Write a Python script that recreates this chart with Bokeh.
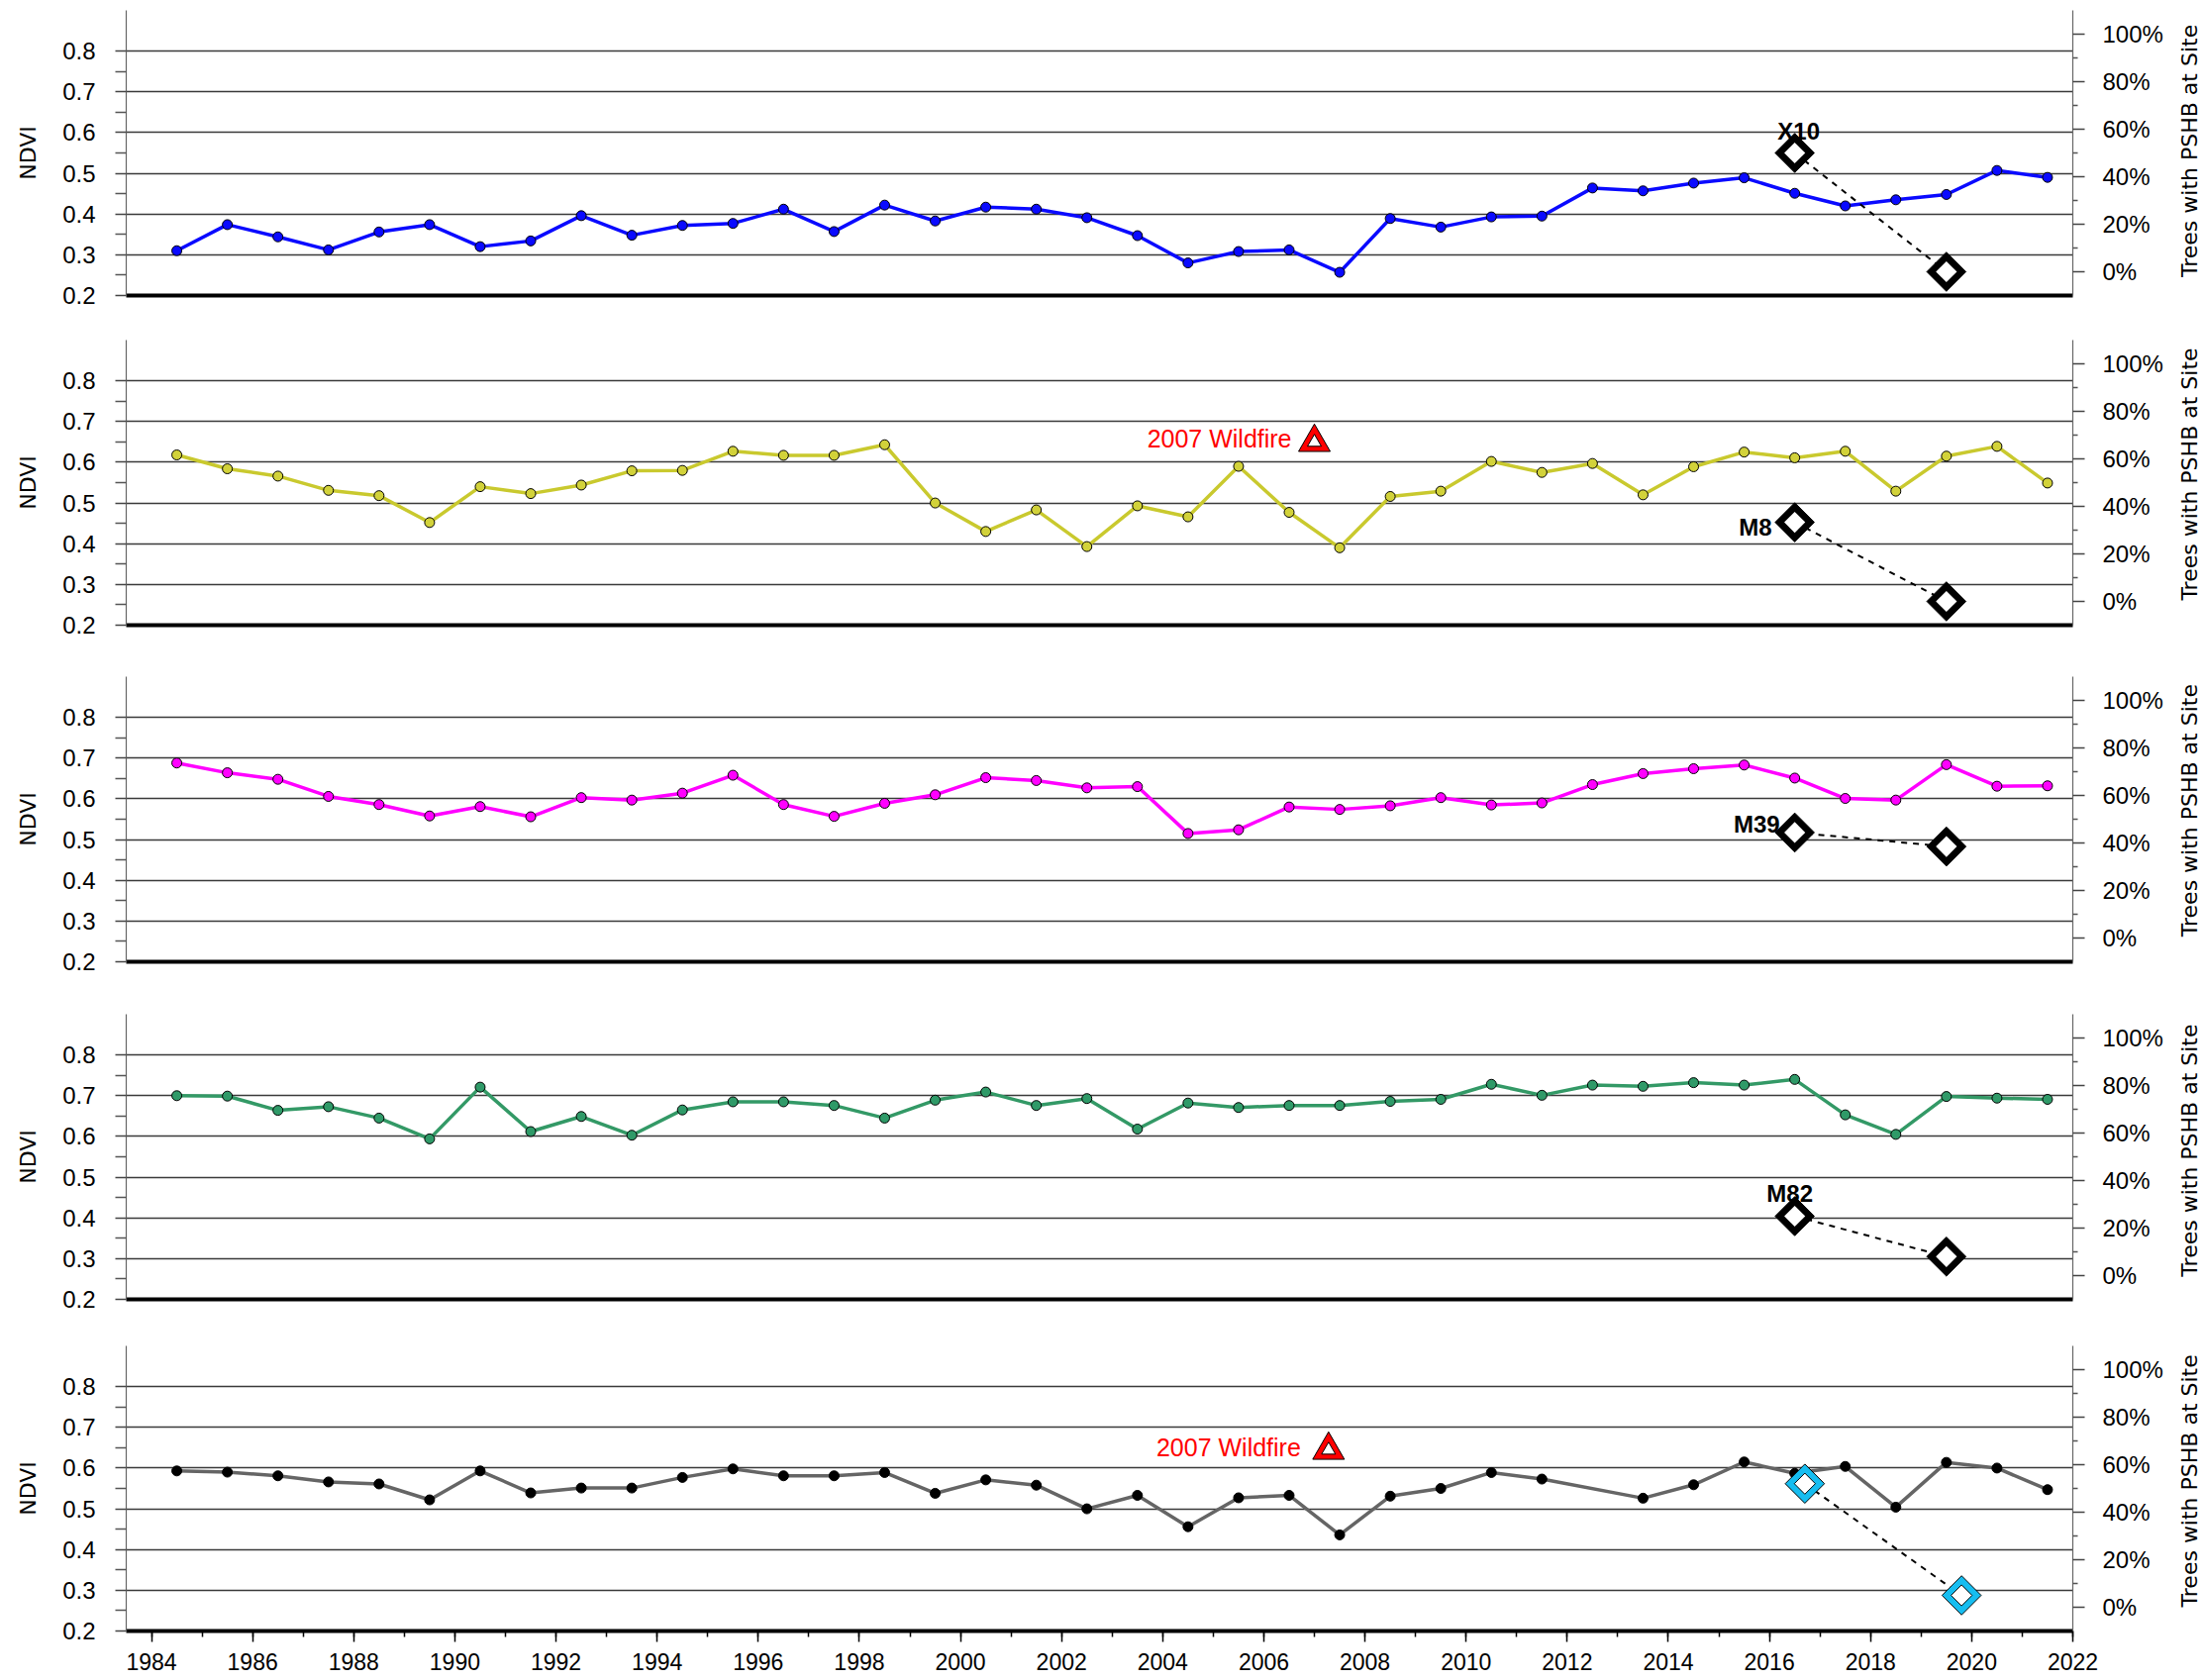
import numpy as np
from bokeh.plotting import figure
from bokeh.layouts import column, row
from bokeh.models import (Range1d, LinearAxis, FixedTicker, PrintfTickFormatter,
                          NumeralTickFormatter)
from bokeh.core.properties import value
from bokeh.embed import file_html
from bokeh.resources import INLINE

# ---------------- data ----------------
years = [1984.5, 1985.5, 1986.5, 1987.5, 1988.5, 1989.5, 1990.5, 1991.5, 1992.5, 1993.5,
         1994.5, 1995.5, 1996.5, 1997.5, 1998.5, 1999.5, 2000.5, 2001.5, 2002.5, 2003.5,
         2004.5, 2005.5, 2006.5, 2007.5, 2008.5, 2009.5, 2010.5, 2011.5, 2012.5, 2013.5,
         2014.5, 2015.5, 2016.5, 2017.5, 2018.5, 2019.5, 2020.5, 2021.5]

ndvi_x10 = [0.310, 0.374, 0.344, 0.312, 0.356, 0.374, 0.320, 0.334, 0.396, 0.348,
            0.372, 0.377, 0.412, 0.357, 0.422, 0.383, 0.417, 0.412, 0.391, 0.347,
            0.280, 0.308, 0.312, 0.257, 0.389, 0.368, 0.393, 0.395, 0.464, 0.457,
            0.476, 0.489, 0.451, 0.420, 0.435, 0.448, 0.507, 0.490]

ndvi_m8 = [0.618, 0.584, 0.566, 0.531, 0.518, 0.452, 0.540, 0.523, 0.544, 0.579,
           0.580, 0.627, 0.617, 0.617, 0.643, 0.500, 0.430, 0.483, 0.393, 0.493,
           0.466, 0.590, 0.477, 0.390, 0.516, 0.529, 0.602, 0.575, 0.597, 0.520,
           0.589, 0.625, 0.611, 0.627, 0.529, 0.615, 0.639, 0.549]

ndvi_m39 = [0.688, 0.664, 0.648, 0.606, 0.586, 0.558, 0.581, 0.556, 0.603, 0.597,
            0.614, 0.658, 0.586, 0.557, 0.589, 0.610, 0.652, 0.645, 0.627, 0.630,
            0.515, 0.524, 0.580, 0.574, 0.583, 0.603, 0.585, 0.590, 0.635, 0.662,
            0.674, 0.683, 0.651, 0.601, 0.597, 0.684, 0.631, 0.632]

ndvi_m82 = [0.700, 0.699, 0.664, 0.673, 0.645, 0.594, 0.721, 0.612, 0.649, 0.603,
            0.665, 0.685, 0.685, 0.676, 0.645, 0.689, 0.709, 0.676, 0.693, 0.618,
            0.682, 0.671, 0.676, 0.676, 0.686, 0.691, 0.728, 0.701, 0.726, 0.723,
            0.732, 0.726, 0.740, 0.653, 0.605, 0.698, 0.694, 0.691]

# fifth site: no value for 2012.5
years_s5 = [1984.5, 1985.5, 1986.5, 1987.5, 1988.5, 1989.5, 1990.5, 1991.5, 1992.5, 1993.5,
            1994.5, 1995.5, 1996.5, 1997.5, 1998.5, 1999.5, 2000.5, 2001.5, 2002.5, 2003.5,
            2004.5, 2005.5, 2006.5, 2007.5, 2008.5, 2009.5, 2010.5, 2011.5, 2013.5,
            2014.5, 2015.5, 2016.5, 2017.5, 2018.5, 2019.5, 2020.5, 2021.5]
ndvi_s5 = [0.593, 0.590, 0.581, 0.566, 0.561, 0.522, 0.593, 0.539, 0.551, 0.551,
           0.577, 0.598, 0.581, 0.581, 0.589, 0.538, 0.571, 0.558, 0.500, 0.533,
           0.456, 0.527, 0.533, 0.436, 0.531, 0.550, 0.589, 0.573, 0.526,
           0.559, 0.615, 0.587, 0.604, 0.504, 0.614, 0.600, 0.547]

# PSHB infestation (fraction of trees)
pshb_years = [2016.5, 2019.5]
pshb_x10 = [0.50, 0.0]
pshb_m8 = [0.333, 0.0]
pshb_m39 = [0.444, 0.385]
pshb_m82 = [0.25, 0.08]
pshb_years_s5 = [2016.7, 2019.8]
pshb_s5 = [0.52, 0.05]

wildfire_text = "2007 Wildfire"
wildfire_x = [None, 2007.0, None, None, 2007.28]
wildfire_y = [None, 0.649, None, None, 0.644]

ndvi_ticks = [0.2, 0.3, 0.4, 0.5, 0.6, 0.7, 0.8]
ndvi_minor = [0.25, 0.35, 0.45, 0.55, 0.65, 0.75]
pct_ticks = [0.0, 0.2, 0.4, 0.6, 0.8, 1.0]
pct_minor = [0.1, 0.3, 0.5, 0.7, 0.9]
year_ticks = list(range(1984, 2023, 2))
year_minor = list(range(1984, 2023))

left_title = "NDVI"
right_title = "Trees with PSHB at Site"

# ---------------- style ----------------
TICK_FONT = "Liberation Sans"
TITLE_FONT = "DejaVu Sans"

panels = [
    dict(x=years, y=ndvi_x10, line="#0a0aff", fill="#0a0aff", px=pshb_years, py=pshb_x10,
         dcol="black", label="X10", loff=(4, -22), lalign="center"),
    dict(x=years, y=ndvi_m8, line="#c9c92e", fill="#d2d23a", px=pshb_years, py=pshb_m8,
         dcol="black", label="M8", loff=(-23, 5), lalign="right"),
    dict(x=years, y=ndvi_m39, line="#ff00ff", fill="#ff00ff", px=pshb_years, py=pshb_m39,
         dcol="black", label="M39", loff=(-15, -8), lalign="right"),
    dict(x=years, y=ndvi_m82, line="#339966", fill="#2f9a68", px=pshb_years, py=pshb_m82,
         dcol="black", label="M82", loff=(-5, -23), lalign="center"),
    dict(x=years_s5, y=ndvi_s5, line="#656565", fill="black", px=pshb_years_s5, py=pshb_s5,
         dcol="#16bdf0", label="", loff=(0, 0), lalign="center"),
]
heights = [341, 340, 341, 335, 338]
tops = [10, 2, 2, 2, 2]
FRAME_H = 288
FRAME_LEFT = 127
FRAME_W = 1966
MAIN_W = 2195
SIDE_W = 29

rows = []
for i, (cfg, h, t) in enumerate(zip(panels, heights, tops)):
    last = i == len(panels) - 1
    p = figure(width=MAIN_W, height=h,
               x_range=Range1d(1983.5, 2022), y_range=Range1d(0.2, 0.9),
               output_backend="svg", toolbar_location=None,
               min_border_left=FRAME_LEFT, min_border_right=MAIN_W - FRAME_LEFT - FRAME_W,
               min_border_top=t, min_border_bottom=h - t - FRAME_H)
    p.extra_y_ranges = {"pct": Range1d(-0.1, 1.1)}
    p.outline_line_color = None
    p.background_fill_color = "white"
    p.border_fill_color = "white"

    # left axis
    yt = FixedTicker(ticks=ndvi_ticks, minor_ticks=ndvi_minor)
    yax = p.yaxis[0]
    yax.ticker = yt
    yax.formatter = PrintfTickFormatter(format="%.1f")
    yax.axis_line_color = "#666666"
    yax.axis_line_width = 1.2
    yax.major_tick_out = 11
    yax.major_tick_in = 0
    yax.minor_tick_out = 11
    yax.minor_tick_in = 0
    yax.major_tick_line_color = "#444444"
    yax.minor_tick_line_color = "#555555"
    yax.major_tick_line_width = 1.5
    yax.minor_tick_line_width = 1.5
    yax.major_label_standoff = 20
    yax.major_label_text_font = TICK_FONT
    yax.major_label_text_font_size = "24px"
    yax.major_label_text_color = "black"
    yax.axis_label = left_title
    yax.axis_label_text_font = TITLE_FONT
    yax.axis_label_text_font_size = "22px"
    yax.axis_label_text_font_style = "normal"
    yax.axis_label_text_color = "black"
    yax.axis_label_standoff = 19

    p.ygrid[0].ticker = yt
    p.ygrid.grid_line_color = "#3a3a3a"
    p.ygrid.grid_line_width = 1.5
    p.xgrid.visible = False

    # bottom axis (thick line)
    xax = p.xaxis[0]
    xax.axis_line_width = 4
    xax.axis_line_color = "black"
    if last:
        xax.ticker = FixedTicker(ticks=year_ticks, minor_ticks=year_minor)
        xax.formatter = PrintfTickFormatter(format="%d")
        xax.major_tick_out = 11
        xax.major_tick_in = 0
        xax.minor_tick_out = 6
        xax.minor_tick_in = 0
        xax.major_tick_line_color = "black"
        xax.minor_tick_line_color = "black"
        xax.major_tick_line_width = 1.5
        xax.minor_tick_line_width = 1.5
        xax.major_label_standoff = 11
        xax.major_label_text_font = TICK_FONT
        xax.major_label_text_font_size = "23px"
        xax.major_label_text_color = "black"
    else:
        xax.ticker = FixedTicker(ticks=[])
        xax.major_tick_line_color = None
        xax.minor_tick_line_color = None

    # right axis
    rax = LinearAxis(y_range_name="pct",
                     ticker=FixedTicker(ticks=pct_ticks, minor_ticks=pct_minor),
                     formatter=NumeralTickFormatter(format="0%"))
    rax.axis_line_color = "#666666"
    rax.axis_line_width = 1.2
    rax.major_tick_out = 12
    rax.major_tick_in = 0
    rax.minor_tick_out = 5
    rax.minor_tick_in = 0
    rax.major_tick_line_color = "#444444"
    rax.minor_tick_line_color = "#555555"
    rax.major_tick_line_width = 1.5
    rax.minor_tick_line_width = 1.5
    rax.major_label_standoff = 18
    rax.major_label_text_font = TICK_FONT
    rax.major_label_text_font_size = "24px"
    rax.major_label_text_color = "black"
    p.add_layout(rax, "right")

    # NDVI series
    p.line(cfg["x"], cfg["y"], line_color=cfg["line"], line_width=3.5)
    p.scatter(cfg["x"], cfg["y"], marker="circle", size=10,
              fill_color=cfg["fill"], line_color="black", line_width=1)

    # PSHB change
    p.line(cfg["px"], cfg["py"], y_range_name="pct", line_color="black",
           line_width=2, line_dash="6 6")
    p.scatter(cfg["px"], cfg["py"], y_range_name="pct", marker="square", angle=np.pi / 4,
              size=28, fill_color=cfg["dcol"], line_color="black", line_width=1)
    p.scatter(cfg["px"], cfg["py"], y_range_name="pct", marker="square", angle=np.pi / 4,
              size=15, fill_color="white", line_color="black" if last else None, line_width=1)

    if cfg["label"]:
        p.text([cfg["px"][0]], [cfg["py"][0]], text=[cfg["label"]], y_range_name="pct",
               x_offset=cfg["loff"][0], y_offset=cfg["loff"][1],
               text_align=cfg["lalign"], text_baseline="middle",
               text_font=value(TICK_FONT), text_font_style="bold",
               text_font_size="24px", text_color="black")

    # wildfire marker
    if wildfire_x[i] is not None:
        wx, wy = wildfire_x[i], wildfire_y[i]
        p.scatter([wx], [wy], marker="triangle", size=32, fill_color="#ff0000",
                  line_color="black", line_width=1)
        p.scatter([wx], [wy], marker="triangle", size=14, fill_color="white",
                  line_color="black", line_width=1)
        p.text([wx], [wy], text=[wildfire_text], x_offset=-23 if i == 1 else -28,
               y_offset=-4 if i == 1 else -3, text_align="right", text_baseline="middle",
               text_font=value(TICK_FONT), text_font_size="25px", text_color="#ff0000")

    # side strip holding the right-hand title (reads bottom-to-top)
    s = figure(width=SIDE_W, height=h, x_range=Range1d(0, SIDE_W), y_range=Range1d(0, h),
               output_backend="svg", toolbar_location=None,
               x_axis_location=None, y_axis_location=None,
               min_border_left=0, min_border_right=0, min_border_top=0, min_border_bottom=0)
    s.grid.visible = False
    s.outline_line_color = None
    s.background_fill_color = "white"
    s.border_fill_color = "white"
    s.text([2211 - MAIN_W], [h - (t + FRAME_H / 2) - 14], text=[right_title], angle=np.pi / 2,
           text_align="center", text_baseline="middle", text_font=value(TITLE_FONT),
           text_font_size="22px", text_color="black")

    rows.append(row(p, s, spacing=0))

layout = column(*rows, spacing=0)
open("out.html", "w").write(file_html(layout, INLINE))
